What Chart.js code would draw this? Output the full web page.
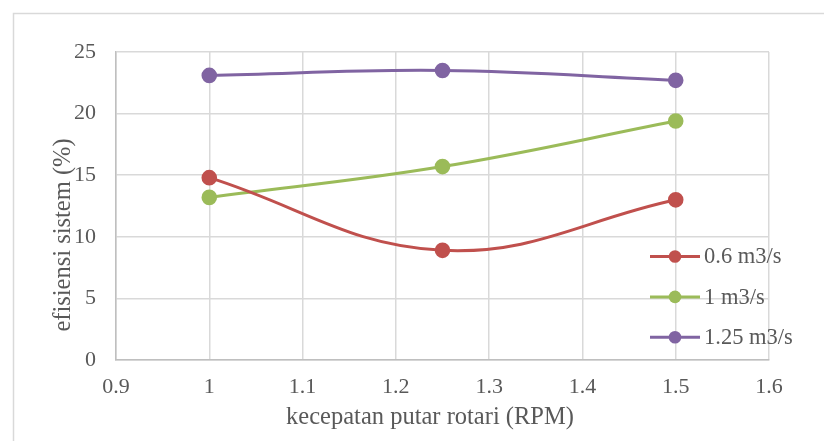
<!DOCTYPE html>
<html>
<head>
<meta charset="utf-8">
<script src="https://cdn.jsdelivr.net/npm/chart.js@4.4.1/dist/chart.umd.min.js"></script>
<style>
  html, body { margin: 0; padding: 0; background: #fff; }
  #wrap { width: 824px; height: 441px; position: relative; }
</style>
</head>
<body>
<div id="wrap"><canvas id="effChart"></canvas></div>
<script>
// kecepatan putar rotari (RPM)
const rpm = [1, 1.25, 1.5];
const xTicks = [0.9, 1, 1.1, 1.2, 1.3, 1.4, 1.5, 1.6];
// efisiensi sistem (%) per debit
const eff06 = [14.8, 8.9, 13.0];
const eff10 = [13.2, 15.7, 19.4];
const eff125 = [23.1, 23.5, 22.7];

const seriesLabels = ['0.6 m3/s', '1 m3/s', '1.25 m3/s'];
const seriesColors = ['#C0504D', '#9BBB59', '#8064A2'];
const xTitle = 'kecepatan putar rotari (RPM)';
const yTitle = 'efisiensi sistem (%)';

const textGray = '#595959';
const serif = '"Liberation Serif", "Times New Roman", serif';

function toPoints(ys) {
    return rpm.map((x, i) => ({ x: x, y: ys[i] }));
}

// light frame round the whole chart (only top & left edges show)
const frame = {
    id: 'frame',
    beforeDraw(chart) {
        const c = chart.ctx;
        c.save();
        c.strokeStyle = '#d9d9d9';
        c.lineWidth = 1.5;
        c.strokeRect(13.5, 13.5, chart.width + 20, chart.height + 20);
        c.restore();
    }
};

// axis titles: Excel centres them a bit off the plot middle
const axisTitles = {
    id: 'axisTitles',
    afterDraw(chart) {
        const c = chart.ctx;
        c.save();
        c.font = '24.5px ' + serif;
        c.fillStyle = textGray;
        c.textAlign = 'center';
        c.textBaseline = 'alphabetic';
        c.fillText(xTitle, 430, 424);
        c.translate(70, 235);
        c.rotate(-Math.PI / 2);
        c.fillText(yTitle, 0, 0);
        c.restore();
    }
};

// legend drawn over the right side of the plot, like the Excel original
const sideLegend = {
    id: 'sideLegend',
    afterDatasetsDraw(chart) {
        const c = chart.ctx;
        c.save();
        c.font = '22.5px ' + serif;
        c.textBaseline = 'middle';
        chart.data.datasets.forEach((ds, i) => {
            const y = 256.5 + i * 40.4;
            c.strokeStyle = ds.borderColor;
            c.lineWidth = 3;
            c.beginPath();
            c.moveTo(650, y);
            c.lineTo(700, y);
            c.stroke();
            c.fillStyle = ds.borderColor;
            c.beginPath();
            c.arc(675, y, 6.3, 0, Math.PI * 2);
            c.fill();
            c.fillStyle = textGray;
            c.fillText(ds.label, 704, y + 1);
        });
        c.restore();
    }
};

const ctx = document.getElementById('effChart').getContext('2d');
new Chart(ctx, {
    type: 'line',
    data: {
        datasets: [eff06, eff10, eff125].map((vals, i) => ({
            label: seriesLabels[i],
            data: toPoints(vals),
            borderColor: seriesColors[i],
            backgroundColor: seriesColors[i],
            borderWidth: 3,
            pointRadius: 6.3,
            pointHoverRadius: 6.3,
            tension: 0.4,
            fill: false
        }))
    },
    options: {
        responsive: true,
        maintainAspectRatio: false,
        animation: false,
        layout: { padding: { left: 0, top: 52, right: 55, bottom: 0 } },
        plugins: {
            legend: { display: false },
            tooltip: { enabled: false }
        },
        scales: {
            x: {
                type: 'linear',
                min: 0.9,
                max: 1.6,
                afterBuildTicks(scale) {
                    scale.ticks = xTicks.map(v => ({ value: v }));
                },
                afterFit(scale) { scale.height = 81; },
                grid: { color: '#d9d9d9', lineWidth: 1.5, drawTicks: false },
                border: { color: '#bfbfbf', width: 1.5 },
                ticks: {
                    color: textGray,
                    font: { family: serif, size: 22 },
                    padding: 14,
                    maxRotation: 0,
                    autoSkip: false,
                    callback: v => String(Math.round(v * 10) / 10)
                }
            },
            y: {
                min: 0,
                max: 25,
                ticks: {
                    stepSize: 5,
                    color: textGray,
                    font: { family: serif, size: 22 },
                    padding: 20
                },
                afterFit(scale) { scale.width = 116; },
                grid: { color: '#d9d9d9', lineWidth: 1.5, drawTicks: false },
                border: { color: '#bfbfbf', width: 1.5 }
            }
        }
    },
    plugins: [frame, axisTitles, sideLegend]
});
</script>
</body>
</html>
